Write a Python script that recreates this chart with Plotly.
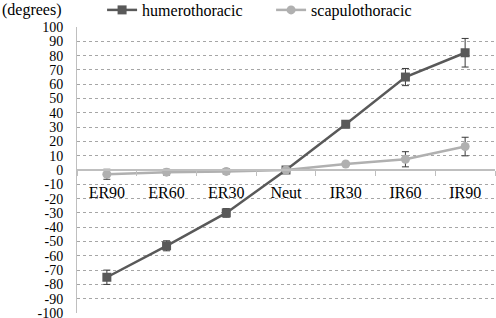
import plotly.graph_objects as go

categories = ["ER90", "ER60", "ER30", "Neut", "IR30", "IR60", "IR90"]
humero = [-75, -53, -30, 0, 32, 65, 82]
humero_err = [5, 3.5, 3, 0.5, 2.5, 6, 10]
scapulo = [-3, -1.5, -1, 0, 4.2, 7.5, 16.4]
scapulo_err = [3.5, 2, 1.8, 0.5, 0.8, 5.3, 6.5]
y_ticks = list(range(-100, 101, 10))

FONT = "Liberation Serif"

fig = go.Figure()
fig.add_trace(go.Scatter(
    x=categories, y=humero, name="humerothoracic", mode="lines+markers",
    line=dict(color="#595959", width=2.5),
    marker=dict(symbol="square", size=9, color="#595959"),
    error_y=dict(type="data", array=humero_err, color="#3a3a3a", thickness=1, width=3.5),
))
fig.add_trace(go.Scatter(
    x=categories, y=scapulo, name="scapulothoracic", mode="lines+markers",
    line=dict(color="#b0b0b0", width=2.5),
    marker=dict(symbol="circle", size=9, color="#b0b0b0"),
    error_y=dict(type="data", array=scapulo_err, color="#3a3a3a", thickness=1, width=3.5),
))

fig.update_layout(
    template="none",
    width=496, height=318,
    margin=dict(l=77, r=1, t=27, b=5, autoexpand=False),
    paper_bgcolor="white", plot_bgcolor="white",
    font=dict(family=FONT, size=15, color="black"),
    showlegend=True,
    legend=dict(orientation="h", x=0.06, xanchor="left", y=1.0, yanchor="bottom",
                font=dict(family=FONT, size=16), entrywidth=124, entrywidthmode="pixels",
                bgcolor="rgba(0,0,0,0)", tracegroupgap=0),
    xaxis=dict(
        type="category", range=[-0.5, 6.5],
        anchor="free", position=0.5,
        showline=True, linecolor="#bfbfbf", linewidth=2,
        ticks="outside", tickson="boundaries", ticklen=5, tickcolor="#bfbfbf", tickwidth=1,
        ticklabelstandoff=8,
        showgrid=False, tickfont=dict(family=FONT, size=16),
    ),
    yaxis=dict(
        range=[-100, 100], tickvals=y_ticks, ticktext=[str(v) for v in y_ticks],
        showgrid=True, gridcolor="#a6a6a6", griddash="dot", gridwidth=1,
        zeroline=False, showline=True, linecolor="#bfbfbf", linewidth=1,
        ticks="", ticklabeloverflow="allow", ticklabelstandoff=10,
        tickfont=dict(family=FONT, size=14),
    ),
    annotations=[dict(text="(degrees)", xref="paper", yref="paper",
                      x=-77/418, y=1.0, xanchor="left", yanchor="bottom", yshift=6,
                      showarrow=False, font=dict(family=FONT, size=16))],
)

fig.write_html("out.html", config={"displayModeBar": False},
               post_script="document.body.style.margin='0';")
